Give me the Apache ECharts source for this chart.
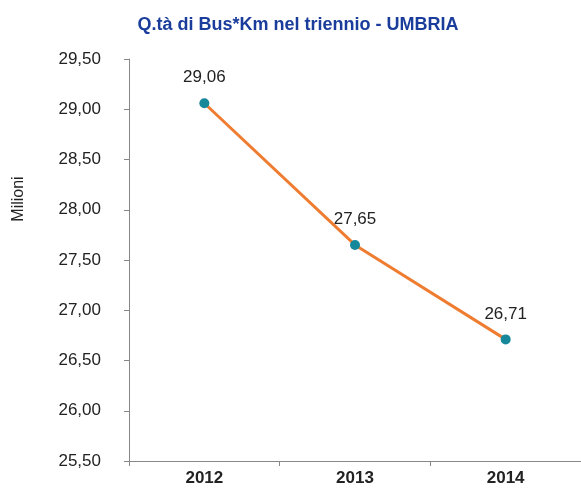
<!DOCTYPE html>
<html><head><meta charset="utf-8">
<script src="https://cdn.jsdelivr.net/npm/echarts@6/dist/echarts.min.js"></script>
<style>html,body{margin:0;padding:0;background:#fff}#c{width:581px;height:490px}</style>
</head><body><div id="c"></div>
<script>
var categories = ['2012', '2013', '2014'];
var values = [29.06, 27.65, 26.71];
var yMin = 25.5, yMax = 29.5, yStep = 0.5;
var titleText = 'Q.tà di Bus*Km nel triennio - UMBRIA';
var yName = 'Milioni';

function fmt(v){ return v.toFixed(2).replace('.', ','); }

var chart = echarts.init(document.getElementById('c'));
chart.setOption({
  backgroundColor: '#fff',
  animation: false,
  title: {
    text: titleText, left: 293, top: 11, textAlign: 'center',
    textStyle: { fontFamily: 'Liberation Sans, Arial', fontSize: 18, fontWeight: 'bold', color: '#1A3D9C' }
  },
  graphic: [{
    type: 'text', x: 19, y: 199, rotation: Math.PI / 2,
    style: { text: yName, fontFamily: 'Liberation Sans, Arial', fontSize: 16, fill: '#222', align: 'center', verticalAlign: 'middle' }
  }],
  grid: { left: 129, top: 59, width: 454, height: 402, containLabel: false },
  xAxis: {
    type: 'category', data: categories, boundaryGap: true,
    axisLine: { lineStyle: { color: '#888', width: 1 } },
    axisTick: { show: true, length: 5, lineStyle: { color: '#888' } },
    axisLabel: { margin: 9, fontFamily: 'Liberation Sans, Arial', fontSize: 17, fontWeight: 'bold', color: '#222' },
    splitLine: { show: false }
  },
  yAxis: {
    type: 'value', min: yMin, max: yMax, interval: yStep,
    axisLine: { show: true, lineStyle: { color: '#888', width: 1 } },
    axisTick: { show: true, length: 5, lineStyle: { color: '#888' } },
    axisLabel: { margin: 28, fontFamily: 'Liberation Sans, Arial', fontSize: 17, color: '#222', formatter: fmt },
    splitLine: { show: false }
  },
  series: [{
    type: 'line', data: values,
    lineStyle: { color: '#EF7D31', width: 3 },
    itemStyle: { color: '#16889A' },
    symbol: 'circle', symbolSize: 10,
    label: { show: true, position: 'top', distance: 12, fontFamily: 'Liberation Sans, Arial', fontSize: 17, color: '#222', formatter: function(p){ return fmt(p.value); } }
  }]
});
</script></body></html>
